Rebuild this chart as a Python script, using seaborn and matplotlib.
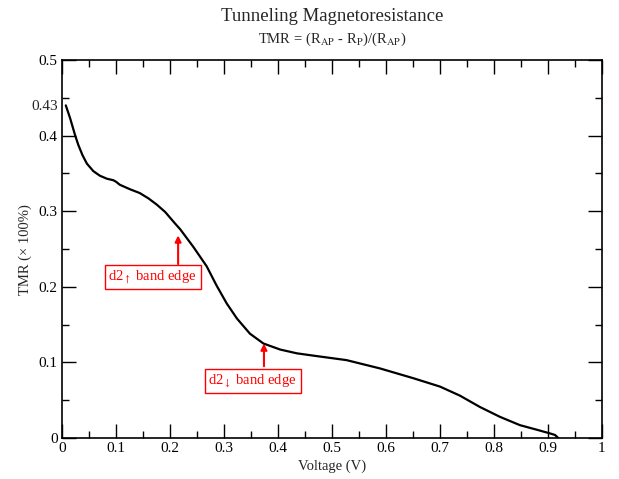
import pandas as pd
import matplotlib
matplotlib.use("Agg")
import matplotlib.pyplot as plt
import matplotlib.transforms as mtransforms
import seaborn as sns

# Values
voltage = [0.007, 0.015, 0.024, 0.030, 0.038, 0.046, 0.058, 0.070, 0.083, 0.095,
           0.100, 0.107, 0.126, 0.144, 0.160, 0.175, 0.191, 0.209, 0.219, 0.243,
           0.268, 0.286, 0.305, 0.324, 0.348, 0.373, 0.404, 0.435, 0.465, 0.527,
           0.589, 0.651, 0.700, 0.737, 0.774, 0.811, 0.848, 0.879, 0.904, 0.913,
           0.919]
tmr = [0.440, 0.423, 0.401, 0.388, 0.374, 0.363, 0.353, 0.347, 0.343, 0.341,
       0.339, 0.335, 0.329, 0.324, 0.317, 0.309, 0.299, 0.284, 0.276, 0.253,
       0.227, 0.202, 0.178, 0.158, 0.138, 0.125, 0.117, 0.112, 0.109, 0.103,
       0.092, 0.079, 0.068, 0.056, 0.041, 0.028, 0.017, 0.011, 0.006, 0.004,
       0.000]

x_ticks = [0, 0.1, 0.2, 0.3, 0.4, 0.5, 0.6, 0.7, 0.8, 0.9, 1]
x_labels = ["0", "0.1", "0.2", "0.3", "0.4", "0.5", "0.6", "0.7", "0.8", "0.9", "1"]
y_ticks = [0, 0.1, 0.2, 0.3, 0.4, 0.5]
y_labels = ["0", "0.1", "0.2", "0.3", "0.4", "0.5"]

# annotations: (text, box centre, arrow tail, arrow tip)
notes = [
    (r"d2$_{\uparrow}$ band edge", (0.168, 0.213), (0.215, 0.230), (0.215, 0.268)),
    (r"d2$_{\downarrow}$ band edge", (0.353, 0.075), (0.374, 0.095), (0.374, 0.125)),
]

df = pd.DataFrame({"Voltage": voltage, "TMR": tmr})

sns.set_theme(style="ticks")
plt.rcParams["font.family"] = ["Liberation Serif", "DejaVu Serif"]
plt.rcParams["mathtext.fontset"] = "stix"
plt.rcParams["xtick.direction"] = "in"
plt.rcParams["ytick.direction"] = "in"

fig = plt.figure(figsize=(6.19, 4.79), dpi=100)
ax = fig.add_axes([0.1002, 0.0856, 0.8723, 0.7891])

sns.lineplot(data=df, x="Voltage", y="TMR", color="black", linewidth=1.6, ax=ax)

ax.set_xlim(0, 1)
ax.set_ylim(0, 0.5)
ax.set_xticks(x_ticks)
ax.set_xticklabels(x_labels)
ax.set_yticks(y_ticks)
ax.set_yticklabels(y_labels)
ax.set_xticks([v + 0.05 for v in x_ticks[:-1]], minor=True)
ax.set_yticks([v + 0.05 for v in y_ticks[:-1]], minor=True)
ax.tick_params(which="both", top=True, right=True, colors="black", labelsize=11, width=1)
ax.tick_params(which="major", length=10, pad=3)
ax.tick_params(which="minor", length=5)
for s in ax.spines.values():
    s.set_color("black")
    s.set_linewidth(1.2)

# extra 0.43 label on the left
trans = mtransforms.blended_transform_factory(ax.transAxes, ax.transData)
ax.text(-0.008, 0.438, "0.43", transform=trans, ha="right", va="center", fontsize=11)

ax.set_xlabel("")
ax.set_ylabel("")
fig.text(0.5366, 0.027, "Voltage (V)", ha="center", va="center", fontsize=10.5)
fig.text(0.040, 0.480, "TMR (× 100%)", ha="center", va="center", rotation=90, fontsize=10.5)

fig.text(0.5366, 0.965, "Tunneling Magnetoresistance", ha="center", va="center", fontsize=13.5)
fig.text(0.5366, 0.918, r"TMR = (R$_{\mathrm{AP}}$ - R$_{\mathrm{P}}$)/(R$_{\mathrm{AP}}$)",
         ha="center", va="center", fontsize=10.5)

for label, centre, tail, tip in notes:
    ax.annotate("", xy=tip, xytext=tail,
                arrowprops=dict(arrowstyle="-|>", color="red", lw=1.5,
                                mutation_scale=9, shrinkA=0, shrinkB=0))
    ax.text(centre[0], centre[1], label, color="red", fontsize=10.5, ha="center", va="center",
            bbox=dict(boxstyle="square,pad=0.25", fc="white", ec="red", lw=1))

plt.savefig("out.png", dpi=100)
